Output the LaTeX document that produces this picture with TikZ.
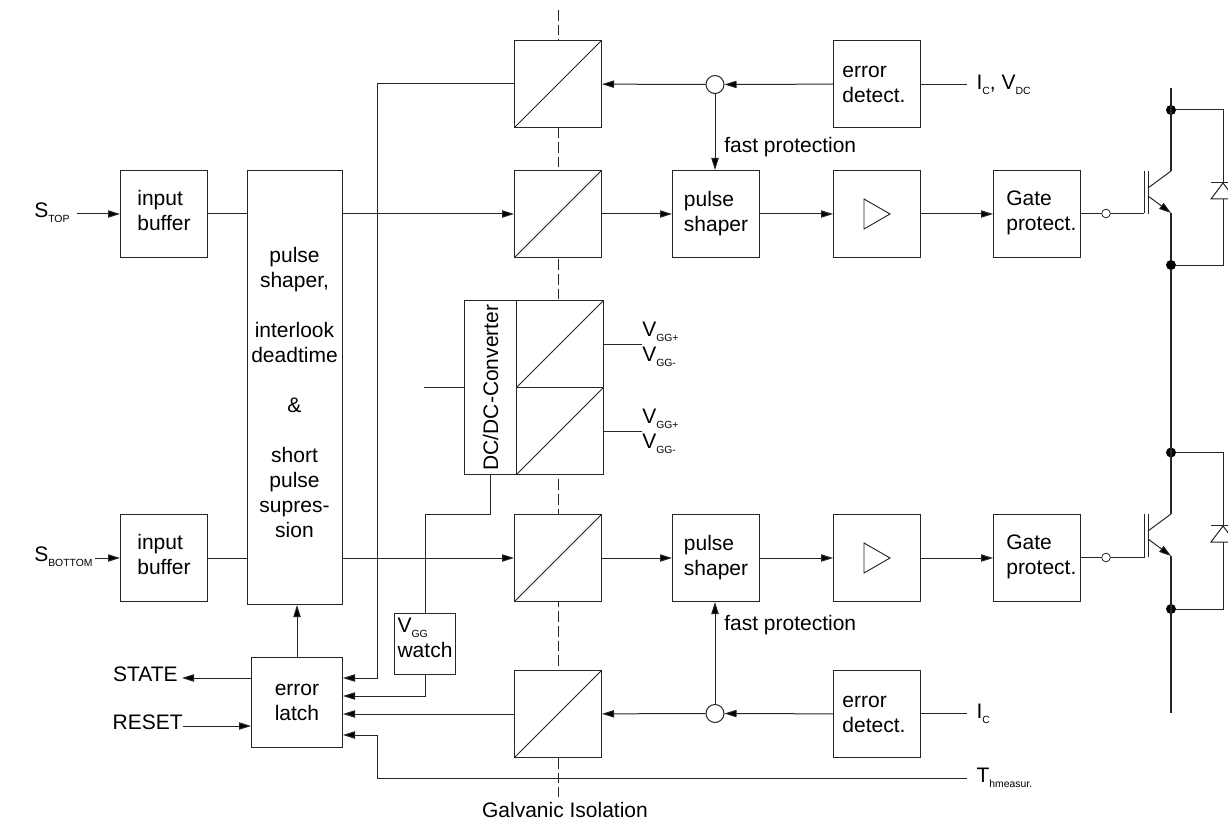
\documentclass[tikz,border=0pt]{standalone}
\usepackage{fontspec}
\setmainfont{Liberation Sans}
\usepackage{tikz}
\usetikzlibrary{arrows.meta,positioning,calc}
\definecolor{LineGray}{HTML}{262626}
\newcommand{\idx}[2]{#1{\raisebox{-0.42ex}{\fontsize{7.8}{8}\selectfont #2}}}

\begin{document}
\begin{tikzpicture}[x=0.75pt,y=-0.75pt,
  box/.style={draw=LineGray,fill=white,line width=0.75pt,align=left,inner sep=0pt,minimum width=65.25pt,minimum height=65.25pt},
  opto/.style={box,path picture={\draw[LineGray,line width=0.7pt] (path picture bounding box.south west) -- (path picture bounding box.north east);}},
  amp/.style={box,path picture={\draw[LineGray,line width=0.7pt,shift={(path picture bounding box.center)}] (-13,-15) -- (13,0) -- (-13,15) -- cycle;}},
  lab/.style={inner sep=1.5pt,align=left},
  wire/.style={draw=LineGray,line width=0.75pt},
  arr/.style={wire,-{Triangle[length=9pt,width=5.5pt,fill=black]}},
  iso/.style={wire,dash pattern=on 8pt off 3pt},
  rail/.style={draw=LineGray,line width=0.95pt},
  joint/.style={circle,draw=LineGray,fill=white,line width=0.75pt,inner sep=0pt,minimum size=13.5pt},
  port/.style={circle,draw=LineGray,fill=white,line width=0.6pt,inner sep=0pt,minimum size=6.5pt},
  dot/.style={circle,fill=black,inner sep=0pt,minimum size=7.5pt},
  every node/.style={text=black,font=\fontsize{15.75}{18.75}\selectfont}
]
\clip (0,0) rectangle (1228,820);
% isolation line first, boxes cover it
\coordinate (isotop) at (558,10);
\coordinate (isoend) at (558,797);
\draw[iso] (isotop) -- (isoend);

% top channel
\node[box,anchor=north west,text depth=6pt] (bufA) at (120,170) {input\\buffer};
\node[box,anchor=north west,minimum width=71.25pt,minimum height=325.5pt] (shp) at (247,170) {};
\node[align=center] (shptext) at (294.5,392.5) {pulse\\shaper,\\[18.75pt]interlook\\deadtime\\[18.75pt]\&\\[18.75pt]short\\pulse\\supres-\\sion};
\node[opto,anchor=north west] (optoA) at (514,170) {};
\node[box,right=52.5pt of optoA] (psA) {pulse\\shaper};
\node[amp,right=54.75pt of psA] (ampA) {};
\node[box,right=54pt of ampA,text depth=5.5pt] (gateA) {\hspace*{6.5pt}Gate\\\hspace*{6.5pt}protect.};
\node[opto,above=31.5pt of optoA] (optoT) {};
\node[box,above=31.5pt of ampA] (errA) {error\\detect.\hspace*{4.5pt}};
\node[joint] (jointA) at (715,84.5) {};

% power supply
\node[box,anchor=north west,minimum width=39pt,minimum height=130.5pt,align=center] (dcdc) at (464,300) {\rotatebox{90}{DC/DC-Converter}};
\node[opto,anchor=north west] (supA) at (516,300) {};
\node[opto,below=-0.75pt of supA] (supB) {};
\node[lab,inner sep=0pt,right=28.5pt of supA] (vggA) {\idx{V}{GG+}\\\idx{V}{GG-}};
\node[lab,inner sep=0pt,right=28.5pt of supB] (vggB) {\idx{V}{GG+}\\\idx{V}{GG-}};
\coordinate (dcin) at (424,387);

% bottom channel
\node[box,anchor=north west,text depth=6pt] (bufB) at (120,514) {input\\buffer};
\node[opto,anchor=north west] (optoB) at (514,514) {};
\node[box,right=52.5pt of optoB] (psB) {pulse\\shaper};
\node[amp,right=54.75pt of psB] (ampB) {};
\node[box,right=54pt of ampB,text depth=5.5pt] (gateB) {\hspace*{6.5pt}Gate\\\hspace*{6.5pt}protect.};
\node[opto,below=51pt of optoB] (optoE) {};
\node[box,below=51pt of ampB] (errB) {error\\detect.\hspace*{4.5pt}};
\node[joint] (jointB) at (715,713.5) {};
\node[box,anchor=north west,minimum width=68.25pt,minimum height=67.5pt] (latch) at (251,657) {error\\latch};
\node[box,anchor=north west,minimum width=45.75pt,minimum height=45.75pt,text depth=9pt] (watch) at (394,613) {\idx{V}{GG}\\watch};

% labels
\node[lab,anchor=west] (sTop) at (32,213) {\idx{S}{TOP}};
\node[lab,anchor=west] (sBot) at (32,557) {\idx{S}{BOTTOM}};
\node[lab,anchor=east] (state) at (180,674) {STATE};
\node[lab,anchor=east,inner sep=0pt] (reset) at (183,722) {RESET};
\node[lab,anchor=west,inner xsep=7pt] (icvdc) at (967,84.5) {\idx{I}{C}, \idx{V}{DC}};
\node[lab,anchor=west,inner xsep=7pt] (ic) at (967,713.5) {\idx{I}{C}};
\node[lab,anchor=west,inner xsep=7pt] (therm) at (967,778) {\idx{T}{hmeasur.}};
\node[lab,anchor=west] (fastA) at (722,147) {fast protection};
\node[lab,anchor=west] (fastB) at (722,625) {fast protection};
\node (galv) at (565,810) {Galvanic Isolation};

% signal paths
\draw[arr] ([xshift=3.75pt]sTop.east |- bufA.west) -- (bufA.west);
\draw[wire] (bufA.east) -- (bufA.east -| shp.west);
\draw[arr] (optoA.west -| shp.east) -- (optoA.west);
\draw[arr] (optoA) -- (psA);
\draw[arr] (psA) -- (ampA);
\draw[arr] (ampA) -- (gateA);
\draw[arr] (sBot.east |- bufB.west) -- (bufB.west);
\draw[wire] (bufB.east) -- (bufB.east -| shp.west);
\draw[arr] (optoB.west -| shp.east) -- (optoB.west);
\draw[arr] (optoB) -- (psB);
\draw[arr] (psB) -- (ampB);
\draw[arr] (ampB) -- (gateB);

% error paths
\draw[wire] (icvdc.west) -- (errA.east |- icvdc.west);
\draw[arr] (errA) -- (jointA);
\draw[arr] (jointA) -- (optoT);
\draw[arr] (jointA) -- (jointA |- psA.north);
\draw[wire] (ic.west) -- (errB.east |- ic.west);
\draw[arr] (errB) -- (jointB);
\draw[arr] (jointB) -- (optoE);
\draw[arr] (jointB) -- (jointB |- psB.south);
\coordinate (busA) at (377,678);
\coordinate (busB) at (377,735);
\coordinate (wtchin) at (425,696);
\coordinate (jog) at (425,514);
\draw[arr] (optoT.west) -| (busA) -- (latch.east |- busA);
\draw[arr] (watch.south -| wtchin) -- (wtchin) -- (latch.east |- wtchin);
\draw[arr] (optoE) -- (latch.east |- optoE);
\draw[arr] (therm.west) -| (busB) -- (latch.east |- busB);
\draw[arr] (latch.north) -- (latch.north |- shp.south);
\draw[arr] (latch.west |- busA) -- ([xshift=1.5pt]state.east |- busA);
\draw[arr] (reset.east |- 0,726) -- (latch.west |- 0,726);

% supply wiring
\draw[wire] (dcin |- dcdc.west) -- (dcdc.west);
\draw[wire] (supA.east) -- (vggA.west);
\draw[wire] (supB.east) -- (vggB.west);
\draw[wire] (watch.north -| jog) -- (jog) -| (dcdc.south);

% top switch
\node[port] (gcA) at (1106,213.5) {};
\coordinate (gbarA) at (1144,213.5);
\coordinate (railtop) at (1171,88);
\coordinate (colA) at (1171,171);
\coordinate (emA) at (1171,213);
\node[dot] (dotA) at (1171,110) {};
\node[dot] (dotB) at (1171,265) {};
\draw[wire] (gateA.east |- gcA) -- (gcA) -- (gbarA);
\draw[wire] (gbarA) -- (1144,171);
\draw[wire] (1148,214) -- (1148,171);
\draw[wire] (1148,188) -- (colA);
\draw[arr] (1148,196) -- (emA);
\draw[rail] (railtop) -- (colA);
\draw[rail] (emA) -- (dotB);
\draw[wire] (dotA) -- (1223,110) -- (1223,265) -- (dotB);
\draw[wire,fill=white] (1211,199) -- (1223,183) -- (1235,199) -- cycle;
\draw[wire] (1211,183) -- (1235,183);

% bottom switch
\node[port] (gcB) at (1106,557.5) {};
\coordinate (gbarB) at (1144,557.5);
\coordinate (colB) at (1171,514);
\coordinate (emB) at (1171,556);
\coordinate (railend) at (1171,713);
\node[dot] (dotC) at (1171,452.5) {};
\node[dot] (dotD) at (1171,609) {};
\draw[rail] (dotB) -- (colB);
\draw[wire] (gateB.east |- gcB) -- (gcB) -- (gbarB);
\draw[wire] (gbarB) -- (1144,514);
\draw[wire] (1148,557) -- (1148,514);
\draw[wire] (1148,531) -- (colB);
\draw[arr] (1148,539) -- (emB);
\draw[rail] (emB) -- (railend);
\draw[wire] (dotC) -- (1223,452.5) -- (1223,609) -- (dotD);
\draw[wire,fill=white] (1211,542) -- (1223,526) -- (1235,542) -- cycle;
\draw[wire] (1211,525) -- (1235,525);
\end{tikzpicture}
\end{document}
